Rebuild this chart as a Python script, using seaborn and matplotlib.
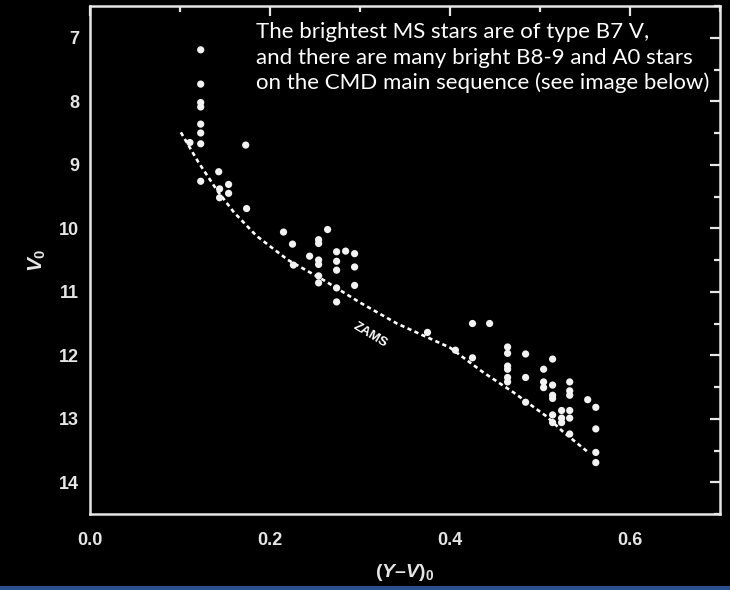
import matplotlib
matplotlib.use("Agg")
import matplotlib.pyplot as plt
import seaborn as sns
import pandas as pd
from matplotlib.patches import Rectangle
from matplotlib.ticker import MultipleLocator

# Star photometry: colour (Y-V)_0 and magnitude V_0
color_yv = [
    0.123, 0.123, 0.123, 0.123, 0.123, 0.123, 0.123, 0.123,
    0.111, 0.173, 0.143, 0.144, 0.154, 0.154, 0.144, 0.174,
    0.215, 0.225, 0.226, 0.264, 0.254, 0.254, 0.254, 0.254, 0.254, 0.254,
    0.244, 0.274, 0.274, 0.274, 0.274, 0.274, 0.284, 0.294, 0.294, 0.294,
    0.375, 0.406, 0.425, 0.425, 0.444,
    0.464, 0.464, 0.464, 0.464, 0.464, 0.464,
    0.484, 0.484, 0.484,
    0.504, 0.504, 0.504,
    0.514, 0.514, 0.514, 0.514, 0.514, 0.514,
    0.524, 0.524, 0.524,
    0.533, 0.533, 0.533, 0.533, 0.533, 0.533,
    0.553, 0.562, 0.562, 0.562, 0.562,
]
mag_v = [
    7.19, 7.73, 8.02, 8.09, 8.36, 8.50, 8.67, 9.26,
    8.65, 8.69, 9.11, 9.38, 9.31, 9.45, 9.52, 9.69,
    10.06, 10.25, 10.58, 10.02, 10.18, 10.24, 10.50, 10.57, 10.75, 10.86,
    10.44, 10.37, 10.52, 10.66, 10.94, 11.16, 10.36, 10.40, 10.61, 10.90,
    11.64, 11.92, 11.50, 12.04, 11.50,
    11.87, 11.97, 12.17, 12.22, 12.35, 12.42,
    11.98, 12.35, 12.74,
    12.22, 12.42, 12.51,
    12.06, 12.47, 12.63, 12.68, 12.94, 13.06,
    12.87, 12.99, 13.06,
    12.42, 12.56, 12.63, 12.87, 12.99, 13.24,
    12.70, 12.82, 13.16, 13.53, 13.69,
]

# ZAMS curve
zams_yv = [0.101, 0.120, 0.141, 0.160, 0.185, 0.220, 0.260, 0.300, 0.341,
           0.400, 0.437, 0.470, 0.507, 0.526, 0.552]
zams_v = [8.49, 8.95, 9.40, 9.75, 10.12, 10.50, 10.82, 11.17, 11.50,
          11.88, 12.27, 12.58, 12.96, 13.21, 13.51]

note_lines = [
    "The brightest MS stars are of type B7 V,",
    "and there are many bright B8-9 and A0 stars",
    "on the CMD main sequence (see image below)",
]

stars = pd.DataFrame({"yv": color_yv, "v": mag_v})
zams = pd.DataFrame({"yv": zams_yv, "v": zams_v})

sns.set_style("dark", {"axes.facecolor": "black", "figure.facecolor": "black"})
plt.rcParams["font.family"] = ["Liberation Sans", "DejaVu Sans"]
plt.rcParams["mathtext.fontset"] = "custom"
plt.rcParams["mathtext.rm"] = "Liberation Sans:bold"
plt.rcParams["mathtext.it"] = "Liberation Sans:bold:italic"
plt.rcParams["mathtext.bf"] = "Liberation Sans:bold"

fg = "#e6e6e6"

fig = plt.figure(figsize=(7.3, 5.9), dpi=100, facecolor="black")
ax = fig.add_axes([90 / 730, 1 - 514 / 590, 630 / 730, 508 / 590])
ax.set_facecolor("black")

sns.lineplot(data=zams, x="yv", y="v", ax=ax, sort=False, estimator=None,
             color="white", linewidth=1.9, linestyle=(0, (1.6, 1.3)))
sns.scatterplot(data=stars, x="yv", y="v", ax=ax, s=27, color="#f2f2f2",
                edgecolor="none", zorder=3)

ax.text(0.311, 11.68, "ZAMS", color="white", fontsize=9.5, fontweight="bold",
        rotation=-31, ha="center", va="center")

ax.set_xlim(0, 0.7)
ax.set_ylim(14.5, 6.5)
ax.xaxis.set_major_locator(MultipleLocator(0.2))
ax.xaxis.set_minor_locator(MultipleLocator(0.1))
ax.yaxis.set_major_locator(MultipleLocator(1))
ax.yaxis.set_minor_locator(MultipleLocator(0.5))
ax.xaxis.set_major_formatter(plt.FormatStrFormatter("%.1f"))
ax.grid(False)

for s in ax.spines.values():
    s.set_visible(True)
    s.set_color(fg)
    s.set_linewidth(1.8)

ax.tick_params(which="both", direction="in", top=True, right=True,
               color=fg, width=1.6)
ax.tick_params(which="major", length=7)
ax.tick_params(which="minor", length=4)
ax.tick_params(axis="x", which="major", pad=13, labelsize=13, labelcolor=fg)
ax.tick_params(axis="y", which="major", pad=8, labelsize=13, labelcolor=fg)
for lab in ax.get_xticklabels() + ax.get_yticklabels():
    lab.set_fontweight("bold")

ax.set_xlabel("($Y$–$V$)$_0$", color=fg, fontsize=14, fontweight="bold",
              labelpad=9)
ax.set_ylabel("$V_0$", color=fg, fontsize=15, labelpad=8)

for i, line in enumerate(note_lines):
    fig.text(256 / 730, 1 - (38 + 25.5 * i) / 590, line, color="white",
             fontsize=16, family=["Lato", "DejaVu Sans"], va="baseline",
             ha="left")

# thin blue band along the bottom edge
fig.patches.append(Rectangle((0, 0), 1, 4 / 590, transform=fig.transFigure,
                             facecolor="#2d4f8e", edgecolor="none", zorder=10))

fig.savefig("out.png", dpi=100, facecolor="black")
